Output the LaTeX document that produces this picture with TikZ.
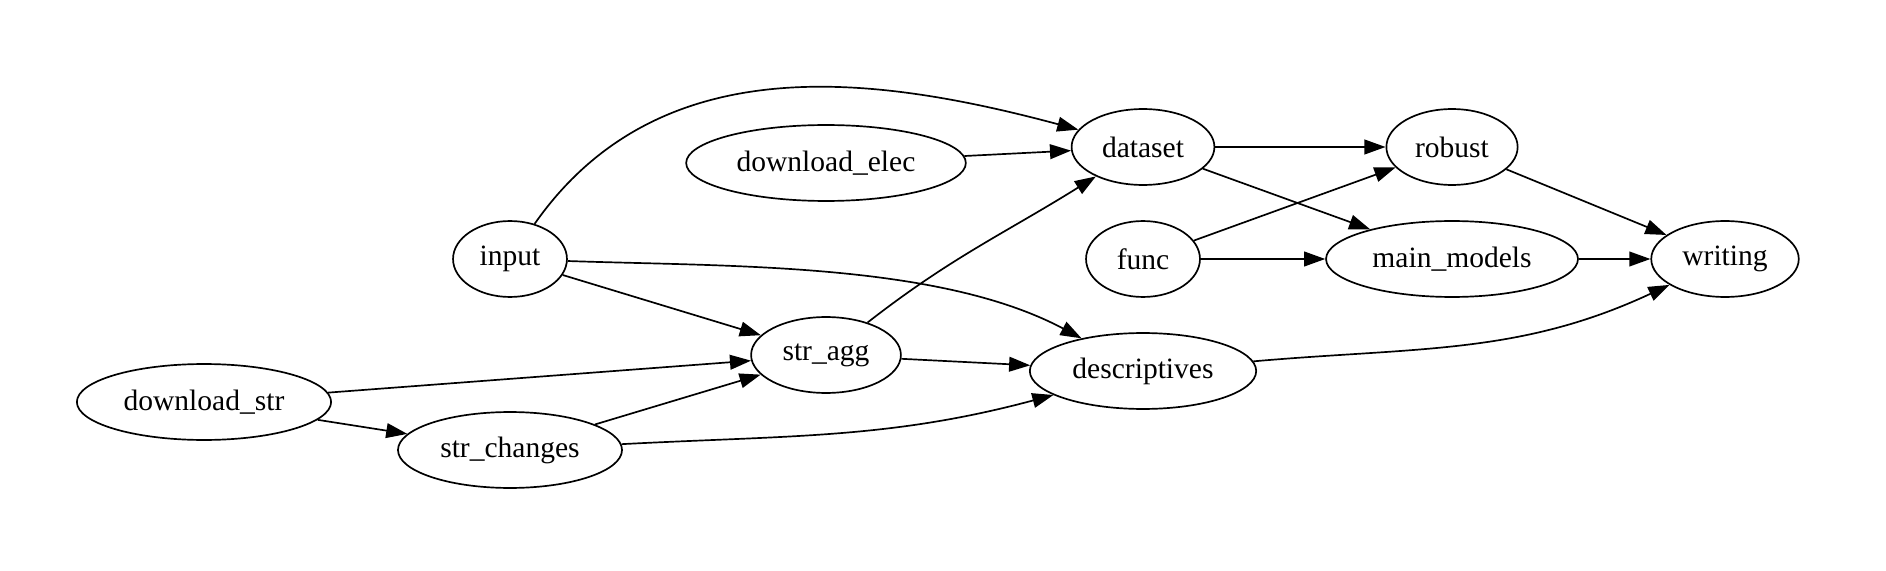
\documentclass[tikz,border=0pt]{standalone}
\usepackage{fontspec}
\setmainfont{Liberation Serif}
\usetikzlibrary{arrows.meta}
\usetikzlibrary{shapes}

\begin{document}
\begin{tikzpicture}[x=0.474pt,y=-0.474pt,->,>={Triangle[length=10pt,width=7pt]},
  thick,every node/.style={ellipse,draw,minimum width=54pt,minimum height=36pt,inner xsep=4.5pt,font=\fontsize{14}{16}\selectfont}]
  \useasboundingbox (0,0) rectangle (1886,571);
  \node (dlstr) at (204,402) {download\_str};
  \node (strch) at (510,450) {str\_changes};
  \node (input) at (510,259) {input};
  \node (stragg) at (826,355) {str\_agg};
  \node (dlelec) at (826,163) {download\_elec};
  \node (dataset) at (1143,147) {dataset};
  \node (func) at (1143,259) {func};
  \node (desc) at (1143,371) {descriptives};
  \node (robust) at (1452,147) {robust};
  \node (mainmod) at (1452,259) {main\_models};
  \node (writing) at (1725,259) {writing};

  \foreach \from/\to in {dlstr/stragg, dlstr/strch, strch/stragg, input/stragg, stragg/desc,
    dlelec/dataset, dataset/robust, dataset/mainmod, func/robust, func/mainmod, robust/writing, mainmod/writing}
    \draw[->] (\from) -- (\to);

  \draw[->] (stragg) to[out=38,in=212] (dataset);
  \draw[->] (input) to[out=55,in=165] (dataset);
  \draw[->] (input) to[out=-2,in=152,looseness=0.8] (desc);
  \draw[->] (strch) to[out=3,in=195] (desc);
  \draw[->] (desc) to[out=5,in=-155] (writing);

\end{tikzpicture}
\end{document}
